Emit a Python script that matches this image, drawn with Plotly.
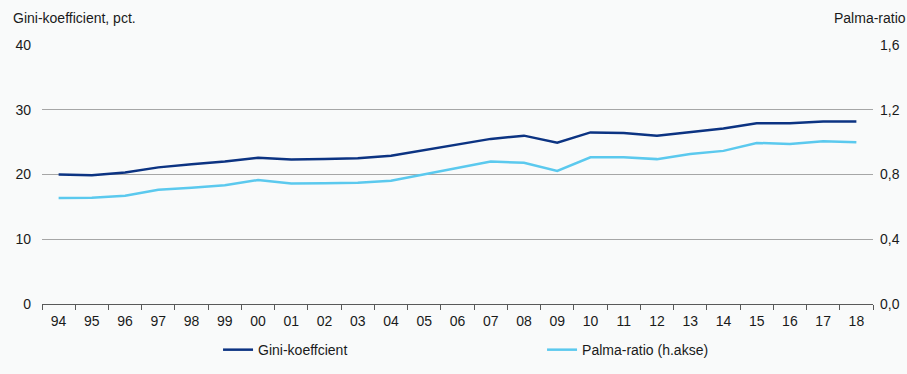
import plotly.graph_objects as go

# Years (two-digit labels) and the two inequality measures
years = ["94", "95", "96", "97", "98", "99", "00", "01", "02", "03", "04", "05",
         "06", "07", "08", "09", "10", "11", "12", "13", "14", "15", "16", "17", "18"]
gini = [20.0, 19.9, 20.3, 21.1, 21.6, 22.0, 22.6, 22.3, 22.4, 22.5, 22.9, 23.8,
        24.6, 25.5, 26.0, 24.9, 26.5, 26.4, 26.0, 26.6, 27.1, 27.9, 27.9, 28.2, 28.2]
palma = [0.655, 0.656, 0.669, 0.706, 0.718, 0.733, 0.766, 0.745, 0.746, 0.749, 0.761, 0.800,
         0.838, 0.880, 0.872, 0.822, 0.906, 0.906, 0.895, 0.926, 0.946, 0.995, 0.989, 1.006, 0.999]

left_ticks = [0, 10, 20, 30, 40]
right_ticks = [0.0, 0.4, 0.8, 1.2, 1.6]

NAVY = "#0c3382"
SKY = "#5bc9ee"
BG = "#f9fafa"
AXIS = "#595959"
FONT = "Liberation Sans, Arial, sans-serif"

fig = go.Figure()
fig.add_trace(go.Scatter(x=years, y=gini, mode="lines", name="Gini-koeffcient",
                         line=dict(color=NAVY, width=2.5)))
fig.add_trace(go.Scatter(x=years, y=palma, mode="lines", name="Palma-ratio (h.akse)",
                         line=dict(color=SKY, width=2.5), yaxis="y2"))

fig.update_layout(
    width=907, height=374,
    margin=dict(l=42, r=34, t=45, b=70, autoexpand=False),
    paper_bgcolor=BG, plot_bgcolor=BG,
    separators=",.",
    font=dict(family=FONT, size=14, color="#1a1a1a"),
    showlegend=True,
    legend=dict(orientation="h", xref="container", x=0.2404, xanchor="left",
                yref="container", y=0.064, yanchor="middle",
                bgcolor="rgba(0,0,0,0)", font=dict(size=14),
                itemwidth=30, entrywidthmode="pixels", entrywidth=279),
    xaxis=dict(type="category", range=[-0.5, len(years) - 0.5],
               tickson="boundaries", ticks="outside", ticklen=5, tickcolor=AXIS,
               showgrid=False, showline=True, linecolor=AXIS, linewidth=1,
               zeroline=False, ticklabelstandoff=4, tickfont=dict(size=14)),
    yaxis=dict(range=[0, 40], tickvals=left_ticks, showgrid=True, gridcolor="#a6a6a6",
               gridwidth=1, zeroline=False, showline=False, ticks="",
               ticklabelstandoff=10, tickfont=dict(size=14)),
    yaxis2=dict(range=[0, 1.6], tickvals=right_ticks, tickformat=".1f", overlaying="y",
                side="right", showgrid=False, zeroline=False, showline=False, ticks="",
                ticklabelstandoff=6, tickfont=dict(size=14)),
    annotations=[
        dict(text="Gini-koefficient, pct.", xref="paper", yref="paper", x=-0.035, y=1.0,
             xanchor="left", yanchor="bottom", yshift=17, xshift=-2, showarrow=False,
             font=dict(size=14)),
        dict(text="Palma-ratio", xref="paper", yref="paper", x=1.04, y=1.0,
             xanchor="right", yanchor="bottom", yshift=17, xshift=2, showarrow=False,
             font=dict(size=14)),
    ],
)

fig.write_html("out.html")
